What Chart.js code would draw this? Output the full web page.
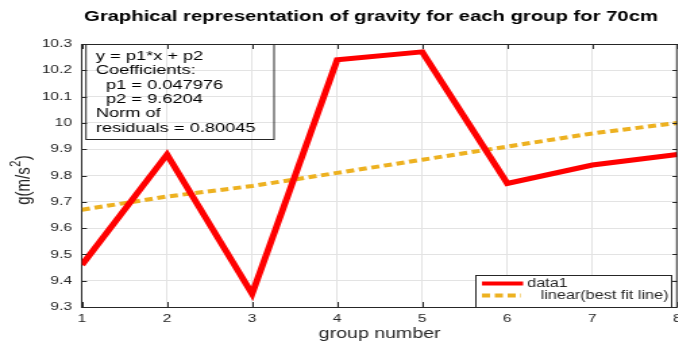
<!DOCTYPE html>
<html>
<head>
<meta charset="utf-8">
<script src="https://cdn.jsdelivr.net/npm/chart.js@4.4.0/dist/chart.umd.min.js"></script>
<style>
html, body { margin: 0; padding: 0; background: #fff; overflow: hidden; width: 678px; height: 343px; }
/* the reference picture is stretched sideways, so the canvas is too */
#plot { display: block; transform: scaleX(1.35); transform-origin: 0 0; }
</style>
</head>
<body>
<canvas id="plot" width="510" height="343"></canvas>
<script>
// values
const groups = [1, 2, 3, 4, 5, 6, 7, 8];
const gravity = [9.46, 9.88, 9.35, 10.24, 10.27, 9.77, 9.84, 9.88];
const bestFit = [9.67, 9.72, 9.76, 9.81, 9.86, 9.91, 9.96, 10.00];
const seriesNames = ['data1', 'linear(best fit line)'];
const fitText = ['y = p1*x + p2', 'Coefficients:', '  p1 = 0.047976', '  p2 = 9.6204', 'Norm of', 'residuals = 0.80045'];
const chartTitle = 'Graphical representation of gravity for each group for 70cm';

const fontFam = '"Liberation Sans", Arial, sans-serif';
const axisCol = '#262626';

// matlab style: title, y label with superscript, box, inward ticks, fit text, legend
const matlabBits = {
    id: 'matlabBits',
    afterDraw(chart) {
        const ctx = chart.ctx;
        const a = chart.chartArea;
        const xs = chart.scales.x, ys = chart.scales.y;
        ctx.save();

        // title
        ctx.fillStyle = '#000';
        ctx.font = 'bold 15px ' + fontFam;
        ctx.textAlign = 'center';
        ctx.textBaseline = 'alphabetic';
        ctx.fillText(chartTitle, 274.8, 21);

        // y label g(m/s^2)
        ctx.save();
        ctx.translate(21.5, 180);
        ctx.rotate(-Math.PI / 2);
        ctx.fillStyle = axisCol;
        ctx.textAlign = 'left';
        ctx.textBaseline = 'alphabetic';
        ctx.font = '15px ' + fontFam;
        const p1 = 'g(m/s', p3 = ')';
        ctx.font = '15px ' + fontFam;
        let w1 = ctx.measureText(p1).width, w3 = ctx.measureText(p3).width;
        ctx.font = '11px ' + fontFam;
        let w2 = ctx.measureText('2').width;
        let x0 = -(w1 + w2 + w3 + 1) / 2;
        ctx.font = '15px ' + fontFam;
        ctx.fillText(p1, x0, 0);
        ctx.font = '11px ' + fontFam;
        ctx.fillText('2', x0 + w1 + 0.5, -7);
        ctx.font = '15px ' + fontFam;
        ctx.fillText(p3, x0 + w1 + w2 + 1, 0);
        ctx.restore();

        ctx.strokeStyle = axisCol;
        ctx.lineWidth = 1;
        ctx.beginPath();
        ctx.moveTo(a.left, a.top + 0.5); ctx.lineTo(a.right, a.top + 0.5);
        ctx.moveTo(a.right - 0.5, a.top); ctx.lineTo(a.right - 0.5, a.bottom);
        // inward ticks
        xs.ticks.forEach(t => {
            let px = Math.round(xs.getPixelForValue(t.value)) + 0.5;
            ctx.moveTo(px, a.bottom); ctx.lineTo(px, a.bottom - 5);
            ctx.moveTo(px, a.top); ctx.lineTo(px, a.top + 5);
        });
        ys.ticks.forEach(t => {
            let py = Math.round(ys.getPixelForValue(t.value)) + 0.5;
            ctx.moveTo(a.left, py); ctx.lineTo(a.left + 3.7, py);
            ctx.moveTo(a.right, py); ctx.lineTo(a.right - 3.7, py);
        });
        ctx.stroke();

        // fit text box
        ctx.strokeRect(63.7, a.top + 0.5, 139.3, 95);
        ctx.fillStyle = '#000';
        ctx.font = '13.5px ' + fontFam;
        ctx.textAlign = 'left';
        ctx.textBaseline = 'alphabetic';
        fitText.forEach((line, i) => {
            ctx.fillText(line, 71, 60 + i * 14.3);
        });

        // legend
        const lx = 352, ly = 275, lw = 145, lh = a.bottom - 275;
        ctx.fillStyle = '#fff';
        ctx.fillRect(lx, ly, lw, lh);
        ctx.strokeRect(lx + 0.5, ly + 0.5, lw, lh);
        const ds = chart.data.datasets;
        ctx.lineWidth = 4;
        ctx.strokeStyle = ds[0].borderColor;
        ctx.beginPath(); ctx.moveTo(357, 283.5); ctx.lineTo(387.5, 283.5); ctx.stroke();
        ctx.strokeStyle = ds[1].borderColor;
        ctx.setLineDash(ds[1].borderDash);
        ctx.beginPath(); ctx.moveTo(357, 295.5); ctx.lineTo(386, 295.5); ctx.stroke();
        ctx.setLineDash([]);
        ctx.fillStyle = axisCol;
        ctx.font = '12px ' + fontFam;
        ctx.textBaseline = 'middle';
        ctx.fillText(ds[0].label, 390.5, 284);
        ctx.fillText(ds[1].label, 400.5, 296);
        ctx.restore();
    }
};

new Chart(document.getElementById('plot'), {
    type: 'line',
    data: {
        datasets: [
            {
                label: seriesNames[0],
                data: groups.map((g, i) => ({ x: g, y: gravity[i] })),
                borderColor: '#ff0000',
                borderWidth: 5,
                pointRadius: 0,
                tension: 0
            },
            {
                label: seriesNames[1],
                data: groups.map((g, i) => ({ x: g, y: bestFit[i] })),
                borderColor: '#edb120',
                borderWidth: 4,
                borderDash: [6, 3.5],
                pointRadius: 0,
                tension: 0
            }
        ]
    },
    options: {
        responsive: false,
        animation: false,
        devicePixelRatio: 1,
        layout: { padding: { left: 0, right: 7.8, top: 44, bottom: 0 } },
        plugins: {
            legend: { display: false },
            tooltip: { enabled: false },
            title: { display: false }
        },
        scales: {
            x: {
                type: 'linear',
                min: 1,
                max: 8,
                afterFit(s) { s.height = 36; },
                ticks: { stepSize: 1, color: axisCol, padding: 5, font: { family: fontFam, size: 11.5 } },
                grid: { color: '#e3e3e3', drawTicks: false },
                border: { color: axisCol, width: 1 },
                title: { display: true, text: 'group number', color: axisCol, font: { family: fontFam, size: 14.5 }, padding: { top: 0, bottom: 0 } }
            },
            y: {
                min: 9.3,
                max: 10.3,
                afterFit(s) { s.width = 60.7; },
                ticks: {
                    stepSize: 0.1,
                    color: axisCol,
                    padding: 7.4,
                    font: { family: fontFam, size: 11.5 },
                    callback: v => String(+v.toFixed(1))
                },
                grid: { color: '#e3e3e3', drawTicks: false },
                border: { color: axisCol, width: 1 },
                title: { display: false }
            }
        }
    },
    plugins: [matlabBits]
});
</script>
</body>
</html>
